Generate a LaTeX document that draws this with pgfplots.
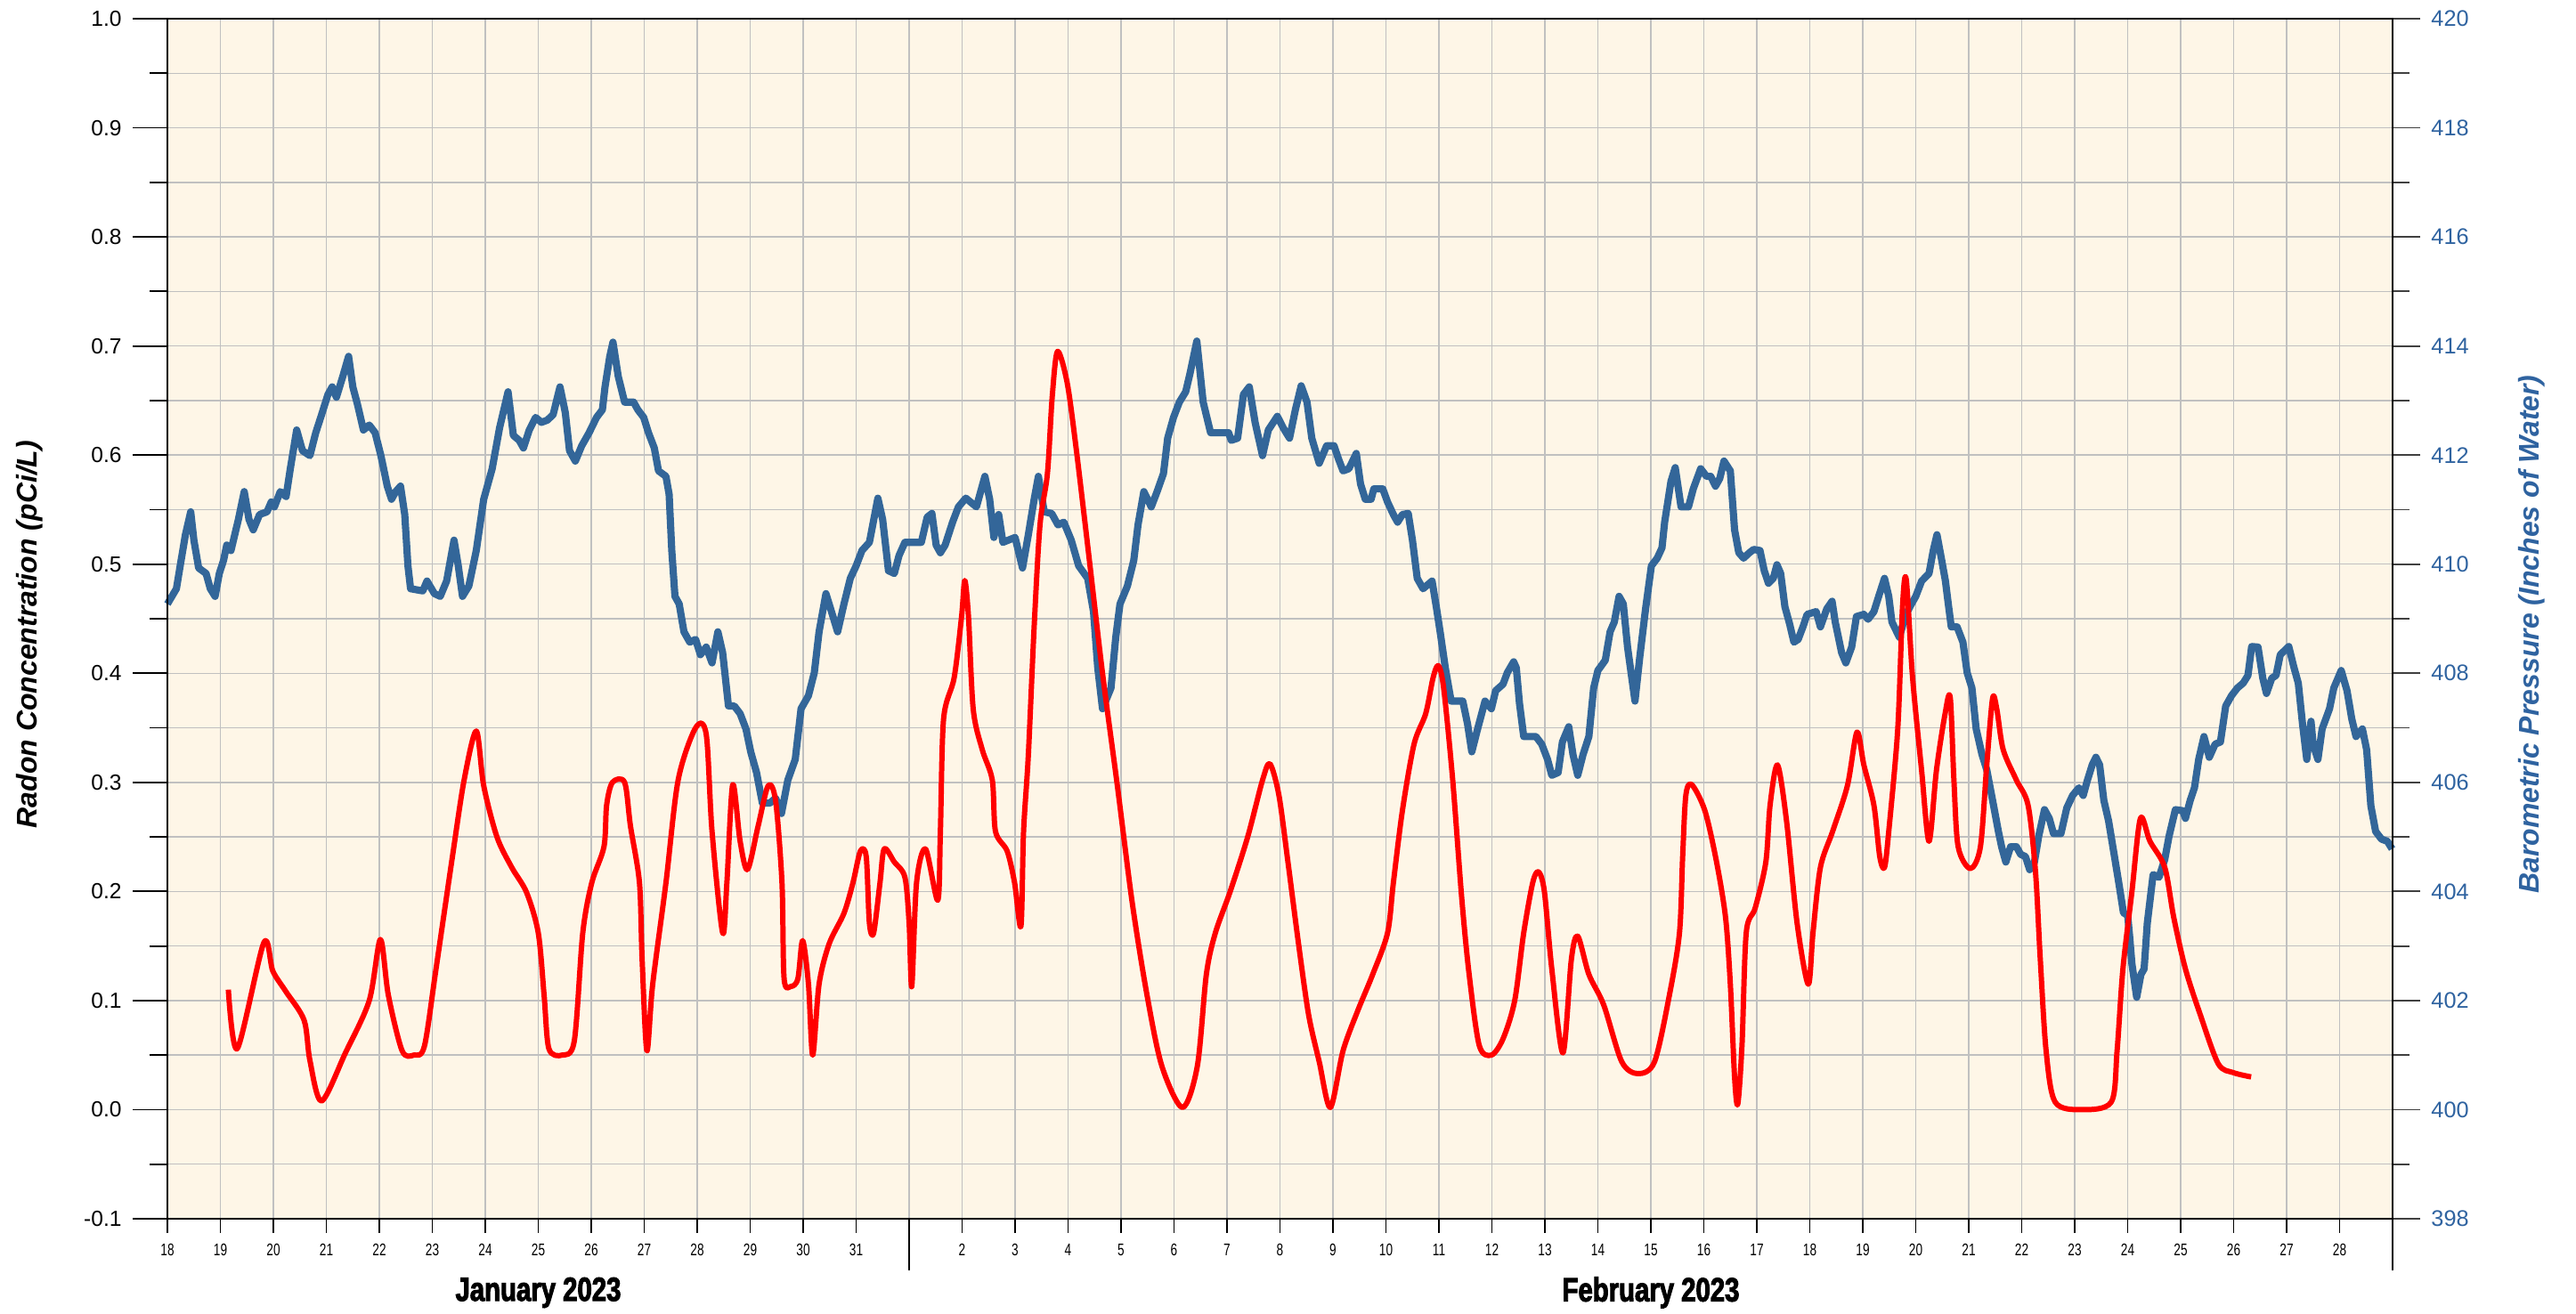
\documentclass[border=0pt]{standalone}
\usepackage{fontspec}
\setmainfont{Liberation Sans}
\newfontfamily\condfont[FakeStretch=0.72]{Liberation Sans}
\newfontfamily\monthfont[FakeStretch=0.78,FakeBold=2.6]{Liberation Sans Bold}
\usepackage{pgfplots}
\pgfplotsset{compat=1.18}
\definecolor{bg}{RGB}{254,246,231}
\definecolor{gridc}{RGB}{192,192,192}
\definecolor{pblue}{RGB}{51,102,153}
\definecolor{lblue}{RGB}{47,99,160}

\pgfplotstableread{
d p
0.00 409.27
0.17 409.55
0.25 410.02
0.34 410.54
0.44 410.96
0.50 410.44
0.59 409.93
0.73 409.83
0.81 409.55
0.90 409.41
0.98 409.83
1.06 410.07
1.12 410.35
1.20 410.25
1.34 410.82
1.45 411.33
1.54 410.82
1.62 410.63
1.74 410.91
1.88 410.96
1.96 411.14
2.02 411.05
2.13 411.33
2.24 411.24
2.32 411.75
2.44 412.46
2.55 412.08
2.69 411.99
2.80 412.41
2.91 412.74
3.03 413.11
3.11 413.25
3.19 413.06
3.31 413.44
3.42 413.81
3.50 413.25
3.59 412.92
3.70 412.46
3.81 412.55
3.92 412.41
4.03 411.99
4.15 411.43
4.23 411.19
4.31 411.33
4.40 411.43
4.48 410.91
4.54 409.97
4.59 409.55
4.82 409.51
4.90 409.69
5.04 409.46
5.15 409.41
5.27 409.69
5.41 410.44
5.49 409.97
5.57 409.41
5.69 409.60
5.83 410.25
5.97 411.19
6.13 411.75
6.27 412.50
6.43 413.16
6.53 412.36
6.64 412.27
6.72 412.13
6.83 412.46
6.95 412.69
7.06 412.60
7.17 412.64
7.28 412.74
7.41 413.25
7.51 412.78
7.59 412.08
7.70 411.89
7.82 412.17
7.96 412.41
8.10 412.69
8.21 412.83
8.26 413.25
8.35 413.81
8.41 414.07
8.51 413.44
8.63 412.97
8.80 412.97
8.88 412.83
8.99 412.69
9.08 412.41
9.19 412.13
9.27 411.71
9.41 411.61
9.47 411.28
9.52 410.25
9.58 409.41
9.66 409.27
9.75 408.76
9.86 408.57
9.97 408.62
10.06 408.34
10.17 408.48
10.28 408.19
10.39 408.76
10.48 408.38
10.59 407.40
10.70 407.40
10.81 407.26
10.92 406.98
11.01 406.56
11.12 406.18
11.23 405.62
11.37 405.62
11.48 405.71
11.59 405.43
11.71 406.04
11.85 406.42
11.96 407.35
12.10 407.59
12.21 408.01
12.30 408.76
12.43 409.46
12.55 409.08
12.65 408.76
12.77 409.27
12.89 409.74
13.00 409.97
13.11 410.25
13.25 410.40
13.41 411.21
13.50 410.82
13.61 409.88
13.72 409.83
13.81 410.16
13.92 410.40
14.23 410.40
14.34 410.86
14.43 410.93
14.51 410.35
14.59 410.21
14.68 410.35
14.82 410.77
14.93 411.05
15.07 411.21
15.27 411.05
15.43 411.61
15.52 411.19
15.60 410.49
15.69 410.91
15.77 410.40
16.00 410.49
16.14 409.93
16.25 410.54
16.36 411.19
16.44 411.61
16.55 410.96
16.69 410.93
16.81 410.72
16.92 410.77
17.06 410.44
17.20 409.97
17.37 409.74
17.48 409.13
17.56 408.10
17.65 407.35
17.81 407.73
17.90 408.66
17.98 409.27
18.12 409.60
18.24 410.07
18.32 410.72
18.43 411.33
18.57 411.05
18.68 411.33
18.80 411.66
18.88 412.31
18.99 412.69
19.10 412.97
19.22 413.16
19.30 413.49
19.43 414.09
19.55 412.97
19.69 412.41
20.03 412.41
20.08 412.27
20.20 412.31
20.31 413.11
20.42 413.25
20.53 412.60
20.67 411.99
20.78 412.46
20.95 412.71
21.06 412.50
21.18 412.31
21.29 412.83
21.40 413.27
21.51 412.97
21.60 412.31
21.74 411.85
21.88 412.17
22.02 412.17
22.10 411.94
22.19 411.71
22.30 411.75
22.44 412.03
22.52 411.47
22.61 411.19
22.72 411.19
22.77 411.38
22.94 411.38
23.03 411.14
23.14 410.91
23.22 410.77
23.31 410.91
23.42 410.93
23.50 410.44
23.59 409.74
23.70 409.55
23.87 409.69
23.95 409.22
24.03 408.71
24.12 408.10
24.23 407.49
24.45 407.49
24.54 407.07
24.62 406.56
24.73 406.98
24.87 407.49
24.99 407.35
25.07 407.68
25.21 407.80
25.29 408.01
25.41 408.21
25.46 408.10
25.52 407.45
25.60 406.84
25.83 406.84
25.94 406.70
26.05 406.42
26.13 406.13
26.25 406.18
26.33 406.74
26.45 407.02
26.53 406.51
26.62 406.13
26.72 406.51
26.83 406.84
26.92 407.73
27.00 408.05
27.14 408.24
27.23 408.76
27.31 408.94
27.40 409.41
27.48 409.27
27.56 408.48
27.70 407.49
27.79 408.29
27.90 409.18
28.01 409.97
28.12 410.11
28.21 410.30
28.26 410.77
28.38 411.52
28.46 411.77
28.57 411.05
28.71 411.05
28.80 411.38
28.94 411.75
29.05 411.61
29.13 411.61
29.22 411.43
29.30 411.57
29.38 411.89
29.50 411.71
29.58 410.63
29.66 410.21
29.75 410.11
29.86 410.21
29.94 410.27
30.06 410.25
30.14 409.88
30.22 409.65
30.31 409.74
30.38 409.99
30.45 409.83
30.53 409.22
30.62 408.90
30.70 408.57
30.78 408.62
30.87 408.85
30.95 409.08
31.12 409.13
31.20 408.85
31.32 409.18
31.42 409.32
31.48 408.94
31.60 408.38
31.68 408.19
31.79 408.48
31.88 409.04
32.02 409.08
32.10 408.99
32.21 409.13
32.30 409.41
32.41 409.74
32.49 409.41
32.55 408.94
32.69 408.66
32.80 409.04
32.89 409.22
33.00 409.41
33.11 409.69
33.25 409.83
33.33 410.25
33.40 410.54
33.49 410.07
33.56 409.69
33.61 409.30
33.67 408.85
33.78 408.85
33.89 408.57
33.97 408.01
34.06 407.73
34.14 406.98
34.25 406.51
34.34 406.23
34.45 405.67
34.56 405.10
34.62 404.82
34.70 404.54
34.79 404.82
34.90 404.82
34.98 404.68
35.07 404.64
35.15 404.40
35.24 404.54
35.32 405.01
35.43 405.50
35.52 405.34
35.60 405.06
35.74 405.06
35.85 405.53
35.96 405.76
36.08 405.90
36.16 405.76
36.24 406.04
36.33 406.32
36.40 406.46
36.47 406.32
36.55 405.67
36.64 405.29
36.72 404.82
36.83 404.17
36.92 403.61
37.00 403.56
37.04 403.14
37.08 402.67
37.17 402.06
37.25 402.48
37.31 402.58
37.37 403.42
37.48 404.31
37.59 404.26
37.70 404.59
37.78 405.01
37.90 405.50
38.04 405.48
38.09 405.34
38.18 405.67
38.26 405.90
38.34 406.42
38.44 406.84
38.54 406.46
38.65 406.70
38.75 406.74
38.85 407.40
38.96 407.59
39.07 407.73
39.18 407.82
39.27 407.96
39.34 408.49
39.46 408.48
39.55 407.91
39.62 407.63
39.72 407.91
39.80 407.96
39.88 408.34
40.04 408.49
40.14 408.10
40.22 407.82
40.30 407.07
40.38 406.42
40.46 407.12
40.50 406.70
40.59 406.42
40.67 406.98
40.81 407.35
40.89 407.73
41.03 408.05
41.14 407.68
41.23 407.16
41.31 406.84
41.43 406.98
41.51 406.60
41.59 405.57
41.68 405.10
41.79 404.96
41.90 404.92
41.99 404.78
}\pressure

\pgfplotstableread{
d r
1.15 0.110
1.32 0.056
1.82 0.153
1.99 0.127
2.24 0.108
2.58 0.082
2.69 0.045
2.91 0.008
3.36 0.052
3.81 0.100
4.02 0.156
4.17 0.105
4.43 0.054
4.65 0.050
4.85 0.058
5.07 0.129
5.38 0.232
5.60 0.302
5.83 0.347
5.97 0.297
6.22 0.250
6.50 0.222
6.78 0.199
7.00 0.162
7.11 0.105
7.20 0.056
7.45 0.050
7.68 0.063
7.84 0.162
8.01 0.208
8.24 0.241
8.29 0.279
8.40 0.300
8.63 0.300
8.74 0.260
8.91 0.208
8.96 0.138
9.05 0.054
9.16 0.115
9.41 0.208
9.64 0.302
9.97 0.350
10.17 0.344
10.28 0.255
10.48 0.162
10.56 0.208
10.67 0.298
10.81 0.246
10.95 0.220
11.15 0.260
11.34 0.297
11.48 0.283
11.60 0.208
11.64 0.120
11.77 0.113
11.90 0.120
11.99 0.155
12.10 0.115
12.18 0.050
12.30 0.115
12.49 0.152
12.77 0.180
12.94 0.208
13.08 0.237
13.19 0.232
13.25 0.171
13.33 0.162
13.45 0.208
13.53 0.239
13.72 0.227
13.92 0.213
14.00 0.171
14.05 0.113
14.14 0.208
14.31 0.239
14.54 0.192
14.59 0.255
14.65 0.358
14.85 0.396
14.99 0.452
15.05 0.485
15.12 0.452
15.21 0.367
15.38 0.330
15.57 0.302
15.63 0.255
15.85 0.237
15.99 0.208
16.11 0.168
16.16 0.255
16.25 0.325
16.36 0.443
16.47 0.536
16.61 0.583
16.70 0.653
16.80 0.695
16.98 0.667
17.14 0.611
17.37 0.517
17.65 0.400
17.93 0.297
18.21 0.190
18.49 0.105
18.77 0.040
19.16 0.002
19.44 0.040
19.61 0.124
19.78 0.162
20.06 0.200
20.39 0.250
20.67 0.302
20.81 0.317
20.98 0.288
21.15 0.227
21.35 0.152
21.54 0.087
21.74 0.044
21.95 0.002
22.19 0.054
22.47 0.091
22.75 0.124
23.03 0.162
23.14 0.208
23.31 0.274
23.53 0.335
23.75 0.363
23.89 0.396
23.99 0.407
24.09 0.386
24.26 0.302
24.43 0.194
24.57 0.124
24.76 0.059
24.99 0.050
25.21 0.065
25.43 0.100
25.60 0.162
25.77 0.208
25.88 0.218
25.99 0.200
26.13 0.129
26.34 0.052
26.50 0.138
26.62 0.159
26.83 0.124
27.11 0.096
27.45 0.044
27.76 0.033
28.07 0.044
28.35 0.105
28.54 0.162
28.60 0.232
28.66 0.288
28.77 0.298
29.02 0.274
29.24 0.227
29.41 0.176
29.50 0.115
29.58 0.030
29.64 0.005
29.72 0.059
29.80 0.162
29.97 0.185
30.17 0.227
30.25 0.279
30.39 0.316
30.56 0.265
30.76 0.171
30.97 0.115
31.06 0.162
31.20 0.222
31.43 0.255
31.71 0.297
31.89 0.346
32.02 0.316
32.21 0.279
32.32 0.232
32.41 0.222
32.49 0.255
32.66 0.349
32.75 0.461
32.82 0.486
32.94 0.396
33.11 0.311
33.25 0.246
33.39 0.311
33.55 0.362
33.65 0.378
33.72 0.302
33.80 0.241
34.03 0.221
34.22 0.241
34.34 0.316
34.45 0.377
34.53 0.367
34.65 0.330
34.90 0.302
35.12 0.279
35.26 0.218
35.35 0.138
35.46 0.054
35.63 0.007
36.13 0.000
36.69 0.007
36.80 0.054
36.91 0.129
37.08 0.200
37.24 0.267
37.42 0.246
37.70 0.222
37.87 0.176
38.09 0.129
38.37 0.087
38.71 0.042
38.99 0.034
39.33 0.030
}\radon

\begin{document}
\begin{tikzpicture}
\useasboundingbox (0,0) rectangle (28.93cm,14.75cm);
% base axis: background, grid, x ticks, pressure line
\begin{axis}[
  at={(1.88cm,1.06cm)}, anchor=south west,
  scale only axis, width=24.99cm, height=13.48cm,
  xmin=0, xmax=42, ymin=398, ymax=420,
  clip=false,
  axis background/.style={fill=bg},
  axis line style={line width=0.6pt, black},
  xtick={0,1,2,3,4,5,6,7,8,9,10,11,12,13,15,16,17,18,19,20,21,22,23,24,25,26,27,28,29,30,31,32,33,34,35,36,37,38,39,40,41},
  xticklabels={18,19,20,21,22,23,24,25,26,27,28,29,30,31,2,3,4,5,6,7,8,9,10,11,12,13,14,15,16,17,18,19,20,21,22,23,24,25,26,27,28},
  extra x ticks={14,42}, extra x tick labels={},
  extra x tick style={major tick length=5.8mm, grid=major},
  xtick pos=bottom, tick align=outside,
  major tick length=1.6mm,
  ytick={398,400,402,404,406,408,410,412,414,416,418,420},
  minor ytick={399,401,403,405,407,409,411,413,415,417,419},
  yticklabels={}, ytick style={draw=none},
  grid=both,
  major grid style={gridc, line width=0.4pt},
  minor grid style={gridc, line width=0.4pt},
  xtick style={line width=0.5pt, black},
  xticklabel style={font=\condfont\fontsize{5.4}{6}\selectfont},
]
\addplot[pblue, line width=2.3pt, line join=round] table[x=d, y=p] {\pressure};
\node[font=\monthfont\fontsize{10.7}{12}\selectfont] at (axis cs:7,398) [yshift=-8.3mm] {January 2023};
\node[font=\monthfont\fontsize{10.7}{12}\selectfont] at (axis cs:28,398) [yshift=-8.3mm] {February 2023};
\end{axis}
% right axis: pressure ticks and label
\begin{axis}[
  at={(1.88cm,1.06cm)}, anchor=south west,
  scale only axis, width=24.99cm, height=13.48cm,
  xmin=0, xmax=42, ymin=398, ymax=420,
  axis line style={line width=0.6pt, black},
  xtick=\empty,
  ytick={398,400,402,404,406,408,410,412,414,416,418,420},
  minor ytick={399,401,403,405,407,409,411,413,415,417,419},
  ytick pos=right, tick align=outside,
  major tick length=3.1mm, minor tick length=1.9mm,
  every tick/.style={line width=0.5pt, black!75},
  /pgf/number format/.cd, assume math mode=true,
  /pgfplots/.cd,
  yticklabel style={font=\fontsize{7.2}{8}\selectfont, text=lblue},
  every axis y label/.style={at={(axis description cs:1.0624,0.487)}, rotate=90, anchor=center},
  ylabel={Barometric Pressure (Inches of Water)},
  ylabel style={font=\bfseries\itshape\fontsize{9.1}{11}\selectfont, text=lblue},
]
\end{axis}
% left axis: radon
\begin{axis}[
  at={(1.88cm,1.06cm)}, anchor=south west,
  scale only axis, width=24.99cm, height=13.48cm,
  xmin=0, xmax=42, ymin=-0.1, ymax=1.0,
  axis line style={line width=0.6pt, black},
  xtick=\empty,
  ytick={-0.1,0,0.1,0.2,0.3,0.4,0.5,0.6,0.7,0.8,0.9,1},
  yticklabels={-0.1,0.0,0.1,0.2,0.3,0.4,0.5,0.6,0.7,0.8,0.9,1.0},
  minor ytick={-0.05,0.05,0.15,0.25,0.35,0.45,0.55,0.65,0.75,0.85,0.95},
  ytick pos=left, tick align=outside,
  major tick length=3.9mm, minor tick length=2.0mm,
  every tick/.style={line width=0.5pt, black},
  yticklabel style={font=\fontsize{7}{8}\selectfont},
  every axis y label/.style={at={(axis description cs:-0.062,0.487)}, rotate=90, anchor=center},
  ylabel={Radon Concentration (pCi/L)},
  ylabel style={font=\bfseries\itshape\fontsize{9.1}{11}\selectfont},
]
\addplot[red, line width=1.7pt, smooth, tension=0.5, line join=round] table[x=d, y=r] {\radon};
\end{axis}
\end{tikzpicture}
\end{document}
